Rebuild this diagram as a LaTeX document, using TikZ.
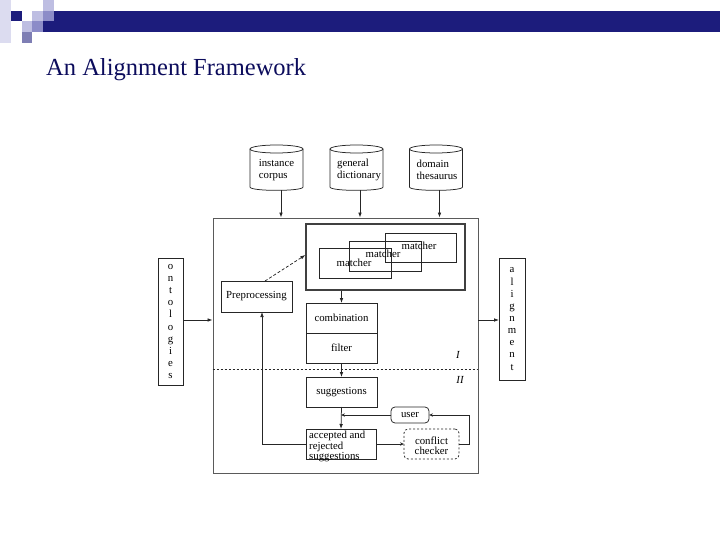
\documentclass[tikz,border=0pt]{standalone}
\usepackage{fontspec}
\setmainfont{Liberation Serif}
\usetikzlibrary{arrows.meta}
\definecolor{navy}{RGB}{28,28,124}
\definecolor{pale}{RGB}{220,220,240}
\definecolor{lightl}{RGB}{190,190,226}
\definecolor{medl}{RGB}{140,140,200}
\definecolor{titlec}{RGB}{12,12,92}
\definecolor{framec}{RGB}{90,90,90}
\newcommand\dfont{\fontsize{10.8}{12}\selectfont}
\newcommand\dbshape[1]{%
  \draw[ln] (#1-26.5,149) -- (#1-26.5,187) .. controls (#1-26.5,191.5) and (#1+26.5,191.5) .. (#1+26.5,187) -- (#1+26.5,149);
  \draw[ln] (#1,149) ellipse[x radius=26.5, y radius=4];}
\begin{document}
\begin{tikzpicture}[x=1pt,y=-1pt,
  ln/.style={draw=black!85, line width=0.75pt},
  box/.style={draw=black!85, line width=0.75pt, rectangle, inner sep=1pt, outer sep=0pt, font=\dfont},
  lbl/.style={inner sep=0pt, font=\dfont},
  arr/.style={ln, -{Latex[length=5pt,width=3.6pt]}},
  sarr/.style={ln, -{Stealth[length=4pt,width=3.4pt,open]}},
  stack/.style={box, align=center, font=\fontsize{10.8}{12.15}\selectfont}]
\useasboundingbox (0,0) rectangle (720,540);
% decoration
\fill[pale] (0,0) rectangle (10.8,43);
\fill[lightl] (43,0) rectangle (54,10.8);
\fill[navy] (10.8,10.8) rectangle (21.5,21.5);
\fill[lightl] (32.3,10.8) rectangle (43,21.5);
\fill[medl] (43,10.8) rectangle (54,21.5);
\fill[lightl] (21.5,21.5) rectangle (32.3,32.3);
\fill[medl] (32.3,21.5) rectangle (43,32.3);
\fill[navy] (43,21.5) rectangle (54,32.3);
\fill[medl!90!black] (21.5,32.3) rectangle (32.3,43);
\fill[navy] (54,10.8) rectangle (720,32.3);
% title
\node[anchor=base west, inner sep=0pt, text=titlec, font=\fontsize{24.5}{28}\selectfont] (title) at (46,76) {An Alignment Framework};
% frame
\node[draw=framec, line width=0.8pt, rectangle, minimum width=265pt, minimum height=255pt, inner sep=0pt] (frame) at (345.5,345.5) {};
% databases
\dbshape{276.5}
\dbshape{356.5}
\dbshape{436}
\node[lbl, align=left] (ic) at (276.5,170) {instance\\corpus};
\node[lbl, align=left] (gd) at (359,170) {general\\dictionary};
\node[lbl, align=left] (dt) at (437,170) {domain\\thesaurus};
\coordinate (icb) at (281,190.5);
\coordinate (gdb) at (360,190.5);
\coordinate (dtb) at (439.5,190.5);
\draw[arr] (icb) -- (icb |- frame.north);
\draw[arr] (gdb) -- (gdb |- frame.north);
\draw[arr] (dtb) -- (dtb |- frame.north);
% matcher container
\node[draw=black!75, line width=1.2pt, rectangle, minimum width=159pt, minimum height=66pt, inner sep=0pt] (mc) at (385.5,257) {};
\node[box, minimum width=72pt, minimum height=30pt] (m1) at (355,263) {};
\node[box, minimum width=72pt, minimum height=30pt] (m2) at (385,256) {};
\node[box, minimum width=71pt, minimum height=29pt] (m3) at (420.5,247.5) {};
\node[lbl] (m1t) at (354,263) {matcher};
\node[lbl] (m2t) at (383,254) {matcher};
\node[lbl] (m3t) at (419,245.5) {matcher};
% processing boxes
\node[box, minimum width=71pt, minimum height=31pt] (pre) at (256.5,296.5) {Preprocessing};
\node[box, minimum width=71pt, minimum height=30pt] (comb) at (341.5,318) {combination};
\node[box, minimum width=71pt, minimum height=30pt] (filt) at (341.5,348) {filter};
\node[box, minimum width=71pt, minimum height=30pt] (sugg) at (341.5,392) {suggestions};
\node[box, minimum width=70pt, minimum height=30pt] (acc) at (341,444) {};
\node[lbl, anchor=north west, align=left, font=\fontsize{10.8}{8.6}\selectfont] (acct) at (309,431) {accepted and\\rejected\\suggestions};
\node[box, rounded corners=4pt, minimum width=38pt, minimum height=16pt] (user) at (410,415) {user};
\node[box, rounded corners=4pt, dash pattern=on 2pt off 2pt, minimum width=55pt, minimum height=30pt] (cc) at (431.5,444) {};
\node[lbl, align=center, font=\fontsize{10.8}{10}\selectfont] (cct) at (431.5,446) {conflict\\checker};
% side boxes
\node[stack, minimum width=25pt, minimum height=127pt] (ont) at (170.5,321.5) {o\\n\\t\\o\\l\\o\\g\\i\\e\\s};
\node[stack, minimum width=26pt, minimum height=122pt] (aln) at (512,319) {a\\l\\i\\g\\n\\m\\e\\n\\t};
% divider and phase labels
\draw[ln, dash pattern=on 2pt off 2pt] (frame.west |- 0,369) -- (frame.east |- 0,369);
\node[lbl, font=\dfont\itshape] (ph1) at (458,355) {I};
\node[lbl, font=\dfont\itshape] (ph2) at (460,380) {II};
% connectors
\draw[arr] (ont.east |- 0,320) -- (frame.west |- 0,320);
\draw[arr] (frame.east |- 0,320) -- (aln.west |- 0,320);
\draw[arr, dash pattern=on 3pt off 2pt] ([xshift=8.5pt]pre.north) -- ([yshift=2pt]mc.west);
\draw[arr] (comb.north |- mc.south) -- (comb.north);
\draw[arr] (filt.south) -- (sugg.north);
\draw[arr] (sugg.south) -- (acc.north);
\draw[sarr] (user.west) -- (acc.north |- user.west);
\draw[sarr] (acc.east) -- (cc.west);
\coordinate (fb) at (469,444);
\draw[sarr] (cc.east) -- (fb) |- (user.east);
\coordinate (lb) at (262,444);
\draw[arr] (acc.west) -- (lb) -- (lb |- pre.south);
\end{tikzpicture}
\end{document}
